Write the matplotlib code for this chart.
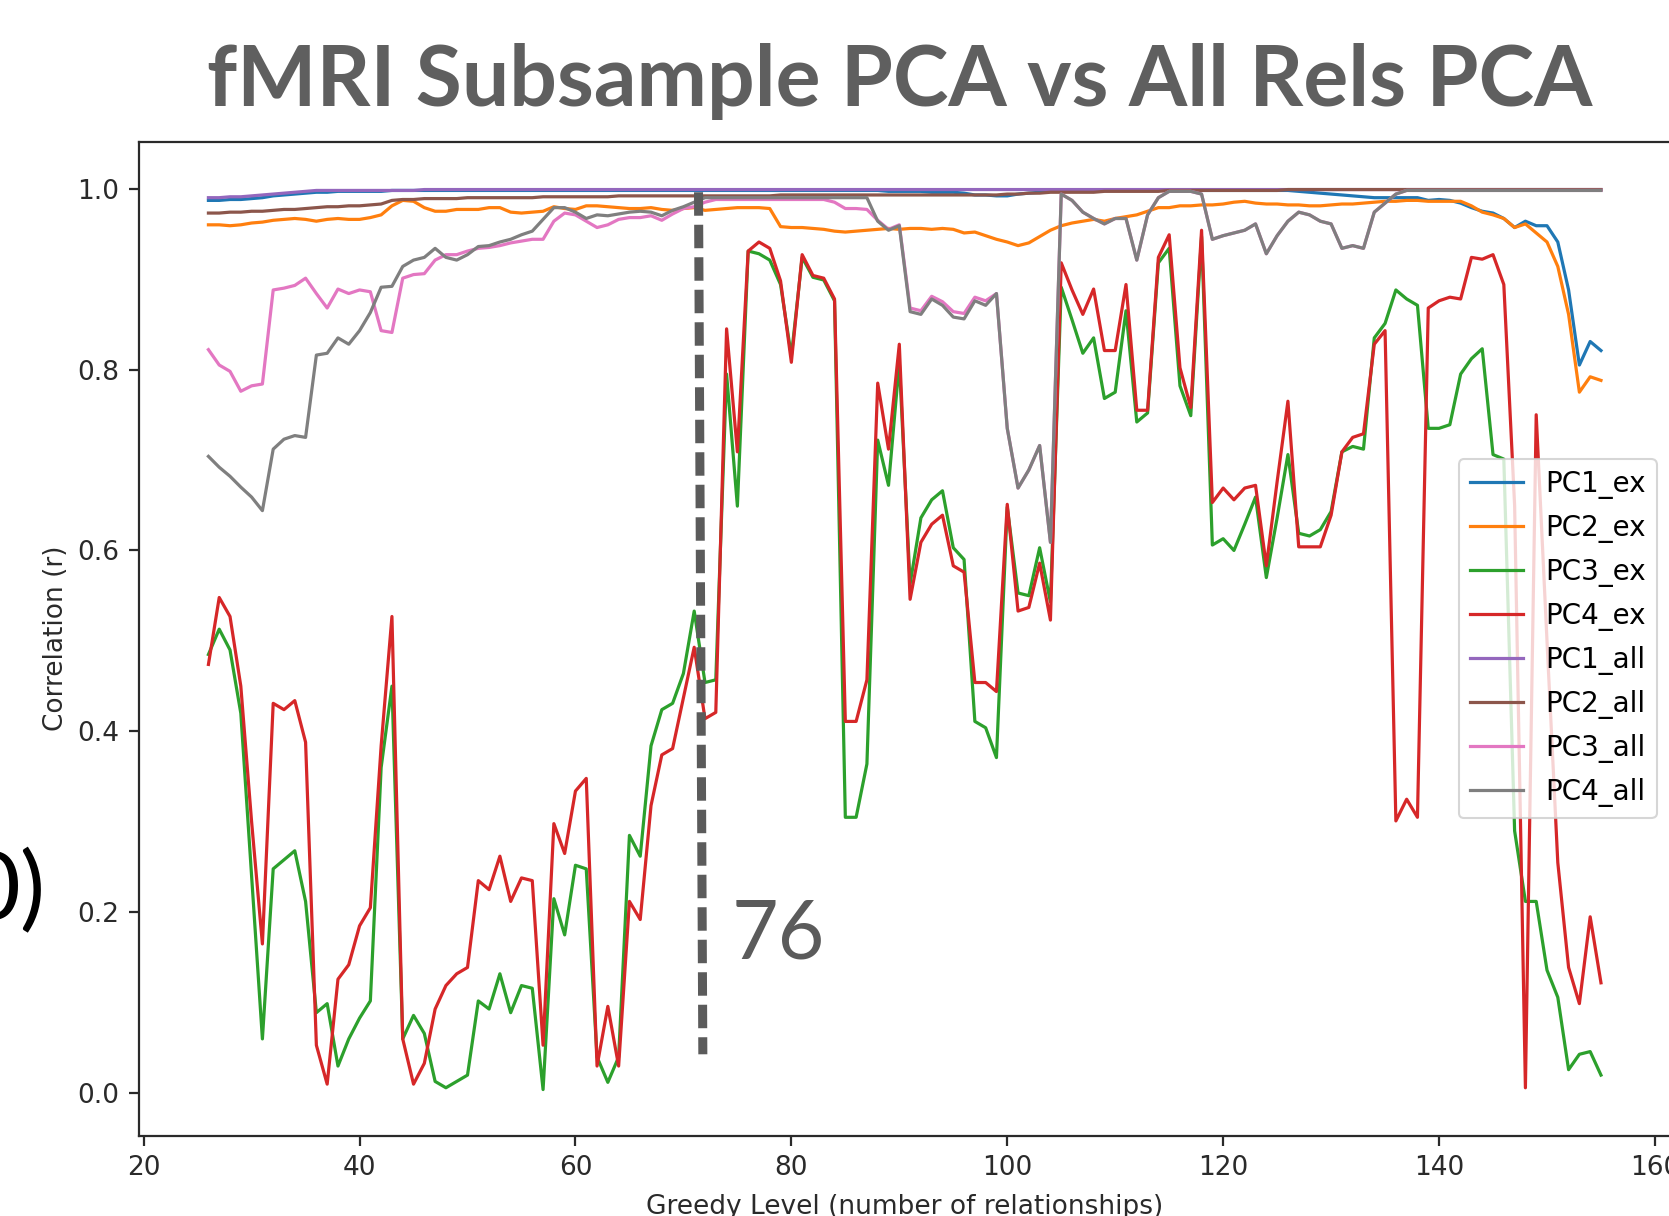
import matplotlib
matplotlib.use("Agg")
import matplotlib.pyplot as plt

# ---------------- data ----------------
levels = list(range(26, 156))

pc1_ex = [0.987, 0.987, 0.988, 0.988, 0.989, 0.990, 0.992, 0.993, 0.994, 0.995,
          0.996, 0.996, 0.997, 0.997, 0.997, 0.997, 0.997, 0.998, 0.998, 0.998,
          0.998, 0.998, 0.998, 0.998, 0.998, 0.998, 0.998, 0.998, 0.998, 0.998,
          0.998, 0.998, 0.998, 0.998, 0.998, 0.998, 0.998, 0.998, 0.998, 0.998,
          0.998, 0.998, 0.998, 0.998, 0.998, 0.998, 0.998, 0.998, 0.998, 0.998,
          0.998, 0.998, 0.998, 0.998, 0.998, 0.998, 0.998, 0.998, 0.998, 0.998,
          0.998, 0.998, 0.998, 0.997, 0.997, 0.997, 0.997, 0.996, 0.996, 0.996,
          0.995, 0.993, 0.993, 0.992, 0.992, 0.994, 0.995, 0.996, 0.997, 0.998,
          0.998, 0.998, 0.998, 0.998, 0.998, 0.998, 0.998, 0.998, 0.998, 0.998,
          0.998, 0.998, 0.998, 0.998, 0.998, 0.998, 0.998, 0.998, 0.998, 0.998,
          0.998, 0.997, 0.996, 0.995, 0.994, 0.993, 0.992, 0.991, 0.990, 0.990,
          0.990, 0.990, 0.990, 0.987, 0.988, 0.987, 0.984, 0.979, 0.975, 0.973,
          0.967, 0.957, 0.964, 0.959, 0.959, 0.941, 0.888, 0.805, 0.831, 0.821]

pc2_ex = [0.960, 0.960, 0.959, 0.960, 0.962, 0.963, 0.965, 0.966, 0.967, 0.966,
          0.964, 0.966, 0.967, 0.966, 0.966, 0.968, 0.971, 0.981, 0.987, 0.986,
          0.979, 0.975, 0.975, 0.977, 0.977, 0.977, 0.979, 0.979, 0.974, 0.973,
          0.974, 0.975, 0.980, 0.978, 0.977, 0.981, 0.981, 0.980, 0.979, 0.978,
          0.978, 0.979, 0.977, 0.976, 0.978, 0.979, 0.976, 0.977, 0.978, 0.979,
          0.979, 0.979, 0.978, 0.958, 0.957, 0.957, 0.956, 0.955, 0.953, 0.952,
          0.953, 0.954, 0.955, 0.956, 0.955, 0.956, 0.956, 0.955, 0.956, 0.955,
          0.951, 0.952, 0.948, 0.944, 0.941, 0.937, 0.940, 0.947, 0.954, 0.959,
          0.962, 0.964, 0.966, 0.964, 0.967, 0.969, 0.971, 0.975, 0.979, 0.979,
          0.981, 0.981, 0.982, 0.982, 0.983, 0.985, 0.986, 0.984, 0.983, 0.983,
          0.982, 0.982, 0.981, 0.981, 0.982, 0.983, 0.983, 0.984, 0.985, 0.986,
          0.986, 0.987, 0.987, 0.986, 0.986, 0.986, 0.986, 0.981, 0.974, 0.971,
          0.967, 0.957, 0.961, 0.951, 0.941, 0.914, 0.861, 0.775, 0.792, 0.788]

pc3_ex = [0.485, 0.513, 0.490, 0.420, 0.240, 0.060, 0.248, 0.258, 0.268, 0.212,
          0.089, 0.099, 0.030, 0.060, 0.083, 0.102, 0.360, 0.450, 0.060, 0.086,
          0.066, 0.013, 0.006, 0.013, 0.020, 0.102, 0.093, 0.132, 0.089, 0.119,
          0.116, 0.004, 0.215, 0.175, 0.252, 0.248, 0.040, 0.012, 0.040, 0.285,
          0.262, 0.384, 0.424, 0.431, 0.464, 0.533, 0.454, 0.457, 0.795, 0.649,
          0.931, 0.928, 0.921, 0.894, 0.815, 0.924, 0.902, 0.899, 0.876, 0.305,
          0.305, 0.364, 0.722, 0.672, 0.808, 0.563, 0.636, 0.656, 0.666, 0.603,
          0.590, 0.411, 0.404, 0.371, 0.648, 0.553, 0.550, 0.603, 0.543, 0.891,
          0.855, 0.818, 0.835, 0.768, 0.775, 0.865, 0.742, 0.752, 0.918, 0.934,
          0.782, 0.749, 0.947, 0.606, 0.613, 0.600, 0.629, 0.659, 0.570, 0.636,
          0.706, 0.619, 0.616, 0.623, 0.643, 0.709, 0.715, 0.712, 0.835, 0.851,
          0.888, 0.878, 0.871, 0.735, 0.735, 0.739, 0.795, 0.812, 0.823, 0.706,
          0.701, 0.290, 0.212, 0.212, 0.136, 0.106, 0.026, 0.043, 0.046, 0.020]

pc4_ex = [0.474, 0.548, 0.527, 0.450, 0.300, 0.165, 0.431, 0.424, 0.434, 0.388,
          0.053, 0.010, 0.126, 0.142, 0.185, 0.205, 0.384, 0.527, 0.060, 0.010,
          0.033, 0.093, 0.119, 0.132, 0.139, 0.235, 0.225, 0.262, 0.212, 0.238,
          0.235, 0.053, 0.298, 0.265, 0.334, 0.348, 0.030, 0.096, 0.030, 0.212,
          0.192, 0.318, 0.374, 0.381, 0.437, 0.493, 0.414, 0.421, 0.845, 0.709,
          0.931, 0.941, 0.934, 0.898, 0.808, 0.927, 0.904, 0.901, 0.878, 0.411,
          0.411, 0.457, 0.785, 0.712, 0.828, 0.546, 0.609, 0.629, 0.639, 0.583,
          0.576, 0.454, 0.454, 0.444, 0.651, 0.533, 0.537, 0.586, 0.523, 0.918,
          0.888, 0.861, 0.889, 0.821, 0.821, 0.894, 0.755, 0.755, 0.924, 0.949,
          0.802, 0.758, 0.954, 0.653, 0.669, 0.656, 0.669, 0.672, 0.583, 0.676,
          0.765, 0.604, 0.604, 0.604, 0.639, 0.709, 0.725, 0.729, 0.828, 0.843,
          0.301, 0.325, 0.305, 0.868, 0.876, 0.880, 0.878, 0.924, 0.922, 0.927,
          0.894, 0.650, 0.006, 0.750, 0.500, 0.255, 0.139, 0.099, 0.195, 0.122]

pc1_all = [0.990, 0.990, 0.991, 0.991, 0.992, 0.993, 0.994, 0.995, 0.996, 0.997,
           0.998, 0.998, 0.998, 0.998, 0.998, 0.998, 0.998, 0.998, 0.998, 0.998,
           0.999, 0.999, 0.999, 0.999, 0.999, 0.999, 0.999, 0.999, 0.999, 0.999,
           0.999, 0.999, 0.999, 0.999, 0.999, 0.999, 0.999, 0.999, 0.999, 0.999,
           0.999, 0.999, 0.999, 0.999, 0.999, 0.999, 0.999, 0.999, 0.999, 0.999,
           0.999, 0.999, 0.999, 0.999, 0.999, 0.999, 0.999, 0.999, 0.999, 0.999,
           0.999, 0.999, 0.999, 0.999, 0.999, 0.999, 0.999, 0.999, 0.999, 0.999,
           0.999, 0.999, 0.999, 0.999, 0.999, 0.999, 0.999, 0.999, 0.999, 0.999,
           0.999, 0.999, 0.999, 0.999, 0.999, 0.999, 0.999, 0.999, 0.999, 0.999,
           0.999, 0.999, 0.999, 0.999, 0.999, 0.999, 0.999, 0.999, 0.999, 0.999,
           0.999, 0.999, 0.999, 0.999, 0.999, 0.999, 0.999, 0.999, 0.999, 0.999,
           0.999, 0.999, 0.999, 0.999, 0.999, 0.999, 0.999, 0.999, 0.999, 0.999,
           0.999, 0.999, 0.999, 0.999, 0.999, 0.999, 0.999, 0.999, 0.999, 0.999]

pc2_all = [0.973, 0.973, 0.974, 0.974, 0.975, 0.975, 0.976, 0.977, 0.977, 0.978,
           0.979, 0.980, 0.980, 0.981, 0.981, 0.982, 0.983, 0.987, 0.988, 0.988,
           0.989, 0.989, 0.989, 0.989, 0.990, 0.990, 0.990, 0.990, 0.990, 0.990,
           0.990, 0.991, 0.991, 0.991, 0.991, 0.991, 0.991, 0.991, 0.992, 0.992,
           0.992, 0.992, 0.992, 0.992, 0.992, 0.992, 0.992, 0.992, 0.992, 0.992,
           0.992, 0.992, 0.992, 0.993, 0.993, 0.993, 0.993, 0.993, 0.993, 0.993,
           0.993, 0.993, 0.993, 0.993, 0.993, 0.993, 0.993, 0.993, 0.993, 0.993,
           0.993, 0.993, 0.993, 0.993, 0.994, 0.994, 0.995, 0.995, 0.996, 0.996,
           0.996, 0.996, 0.996, 0.997, 0.997, 0.997, 0.997, 0.997, 0.997, 0.998,
           0.998, 0.998, 0.998, 0.998, 0.998, 0.998, 0.998, 0.998, 0.998, 0.998,
           0.999, 0.999, 0.999, 0.999, 0.999, 0.999, 0.999, 0.999, 0.999, 0.999,
           0.999, 0.999, 0.999, 0.999, 0.999, 0.999, 0.999, 0.999, 0.999, 0.999,
           0.999, 0.999, 0.999, 0.999, 0.999, 0.999, 0.999, 0.999, 0.999, 0.999]

pc3_all = [0.822, 0.805, 0.798, 0.776, 0.782, 0.784, 0.888, 0.890, 0.893, 0.901,
           0.884, 0.868, 0.889, 0.884, 0.888, 0.886, 0.843, 0.841, 0.901, 0.905,
           0.906, 0.921, 0.927, 0.927, 0.931, 0.934, 0.935, 0.937, 0.940, 0.942,
           0.944, 0.944, 0.964, 0.973, 0.971, 0.964, 0.957, 0.960, 0.966, 0.968,
           0.968, 0.970, 0.965, 0.972, 0.978, 0.980, 0.985, 0.988, 0.988, 0.988,
           0.988, 0.988, 0.988, 0.988, 0.988, 0.988, 0.988, 0.988, 0.985, 0.978,
           0.978, 0.977, 0.965, 0.955, 0.960, 0.868, 0.865, 0.881, 0.875, 0.864,
           0.862, 0.880, 0.876, 0.884, 0.735, 0.669, 0.689, 0.716, 0.609, 0.994,
           0.987, 0.974, 0.967, 0.961, 0.967, 0.967, 0.921, 0.971, 0.990, 0.997,
           0.997, 0.997, 0.994, 0.944, 0.948, 0.951, 0.954, 0.961, 0.928, 0.948,
           0.964, 0.974, 0.971, 0.964, 0.961, 0.934, 0.937, 0.934, 0.974, 0.984,
           0.994, 0.998, 0.998, 0.998, 0.998, 0.998, 0.998, 0.998, 0.998, 0.998,
           0.998, 0.998, 0.998, 0.998, 0.998, 0.998, 0.998, 0.998, 0.998, 0.998]

pc4_all = [0.704, 0.692, 0.682, 0.670, 0.659, 0.644, 0.712, 0.723, 0.727, 0.725,
           0.816, 0.818, 0.835, 0.828, 0.843, 0.863, 0.891, 0.892, 0.914, 0.921,
           0.924, 0.934, 0.924, 0.921, 0.927, 0.936, 0.937, 0.941, 0.944, 0.949,
           0.953, 0.966, 0.979, 0.979, 0.974, 0.967, 0.971, 0.970, 0.972, 0.974,
           0.975, 0.974, 0.970, 0.976, 0.980, 0.985, 0.990, 0.990, 0.990, 0.990,
           0.990, 0.990, 0.990, 0.990, 0.990, 0.990, 0.990, 0.990, 0.990, 0.990,
           0.990, 0.990, 0.964, 0.954, 0.959, 0.864, 0.861, 0.878, 0.871, 0.858,
           0.856, 0.876, 0.871, 0.884, 0.735, 0.669, 0.689, 0.716, 0.609, 0.994,
           0.987, 0.974, 0.967, 0.961, 0.967, 0.967, 0.921, 0.971, 0.990, 0.997,
           0.997, 0.997, 0.994, 0.944, 0.948, 0.951, 0.954, 0.961, 0.928, 0.948,
           0.964, 0.974, 0.971, 0.964, 0.961, 0.934, 0.937, 0.934, 0.974, 0.984,
           0.994, 0.998, 0.998, 0.998, 0.998, 0.998, 0.998, 0.998, 0.998, 0.998,
           0.998, 0.998, 0.998, 0.998, 0.998, 0.998, 0.998, 0.998, 0.998, 0.998]

series_names = ["PC1_ex", "PC2_ex", "PC3_ex", "PC4_ex",
                "PC1_all", "PC2_all", "PC3_all", "PC4_all"]
series_values = [pc1_ex, pc2_ex, pc3_ex, pc4_ex, pc1_all, pc2_all, pc3_all, pc4_all]

x_ticks = [20, 40, 60, 80, 100, 120, 140, 160]
y_ticks = [0.0, 0.2, 0.4, 0.6, 0.8, 1.0]

title_text = "fMRI Subsample PCA vs All Rels PCA"
x_label = "Greedy Level (number of relationships)"
y_label = "Correlation (r)"

# annotation: dashed marker line and its label
marker_x = [71.4, 71.8]
marker_y = [0.996, 0.043]
marker_label = "76"
marker_label_pos = (74.5, 0.149)

# ---------------- figure ----------------
W, H = 1669, 1216
fig = plt.figure(figsize=(W / 100, H / 100), dpi=100)
fig.patch.set_facecolor("white")

ax = fig.add_axes([138.8 / W, 1 - 1135.7 / H, (1670.6 - 138.8) / W, (1135.7 - 141.6) / H])

colors = ["#1f77b4", "#ff7f0e", "#2ca02c", "#d62728",
          "#9467bd", "#8c564b", "#e377c2", "#7f7f7f"]
for name, vals, c in zip(series_names, series_values, colors):
    ax.plot(levels, vals, color=c, lw=2.3, label=name)

ax.set_xlim(19.55, 161.45)
ax.set_ylim(-0.047, 1.052)
ax.set_xticks(x_ticks)
ax.set_yticks(y_ticks)
ax.set_xticklabels([str(t) for t in x_ticks])
ax.set_yticklabels([f"{t:.1f}" for t in y_ticks])

FS = 19
ax.tick_params(labelsize=FS, length=7, width=1.6, pad=7, colors="#2a2a2a")
for s in ax.spines.values():
    s.set_linewidth(1.6)
    s.set_color("#2a2a2a")
ax.set_xlabel(x_label, fontsize=FS, labelpad=9, color="#2a2a2a")
ax.set_ylabel(y_label, fontsize=FS, labelpad=6, color="#2a2a2a")

leg = ax.legend(loc="center right", fontsize=20, frameon=True, framealpha=0.8,
                edgecolor="#cccccc", borderaxespad=0.5, labelspacing=0.54,
                handlelength=1.9)
leg.get_frame().set_linewidth(1.5)

# dashed marker line
ax.plot(marker_x, marker_y, color="#5b5b5b", lw=6.5, dashes=(2.6, 1.0),
        solid_capstyle="butt", dash_capstyle="butt")
ax.text(marker_label_pos[0], marker_label_pos[1], marker_label, fontsize=58,
        color="#5b5b5b", family="Lato", ha="left", va="baseline")

# slide title
fig.text(0.539, 1 - 106 / H, title_text, fontsize=60.5, fontweight="bold",
         family="Lato", color="#5f5f5f", ha="center", va="baseline")

# partial text cut at slide edge
fig.text(45 / W, 1 - 919 / H, "0)", fontsize=68, color="black",
         family="Lato", ha="right", va="baseline")

fig.savefig("out.png", dpi=100, facecolor="white")
